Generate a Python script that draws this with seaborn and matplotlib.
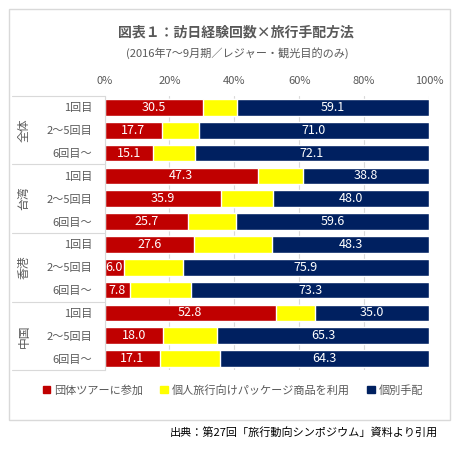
import pandas as pd
import matplotlib.pyplot as plt
import matplotlib.transforms as mtransforms
from matplotlib.patches import Rectangle, Patch
import seaborn as sns

# data (percent)
groups = ['全体', '台湾', '香港', '中国']
visits = ['1回目', '2～5回目', '6回目～']
group_tour = [30.5, 17.7, 15.1, 47.3, 35.9, 25.7, 27.6, 6.0, 7.8, 52.8, 18.0, 17.1]
package = [10.4, 11.3, 12.8, 13.9, 16.1, 14.7, 24.1, 18.1, 18.9, 12.2, 16.7, 18.6]
individual = [59.1, 71.0, 72.1, 38.8, 48.0, 59.6, 48.3, 75.9, 73.3, 35.0, 65.3, 64.3]
series_names = ['団体ツアーに参加', '個人旅行向けパッケージ商品を利用', '個別手配']
x_ticks = [0, 20, 40, 60, 80, 100]

red, yellow, navy = '#C00000', '#FFFF00', '#002060'
gray_txt = '#595959'
line_c = '#D9D9D9'

rows = [f'{g}_{v}' for g in groups for v in visits]
df = pd.DataFrame({'row': rows,
                   'group_tour': group_tour,
                   'package': package,
                   'individual': individual})
df['s2'] = df['group_tour'] + df['package']
df['s3'] = df['s2'] + df['individual']

sns.set_style('white')
plt.rcParams['font.family'] = ['Noto Sans CJK JP', 'DejaVu Sans']

fig = plt.figure(figsize=(4.61, 4.5), dpi=100)
ax = fig.add_axes([104.5 / 461, 80 / 450, 324.5 / 461, 274 / 450])

bw = 0.73
sns.barplot(data=df, x='s3', y='row', color=navy, saturation=1, width=bw, ax=ax)
sns.barplot(data=df, x='s2', y='row', color=yellow, saturation=1, width=bw, ax=ax)
sns.barplot(data=df, x='group_tour', y='row', color=red, saturation=1, width=bw, ax=ax)

ax.set_xlim(0, 100)
ax.set_ylim(11.5, -0.5)
ax.set_xlabel('')
ax.set_ylabel('')
ax.xaxis.tick_top()
ax.set_xticks(x_ticks)
ax.set_xticklabels([f'{t}%' for t in x_ticks], color=gray_txt, fontsize=8)
ax.set_yticks(range(len(rows)))
ax.set_yticklabels(visits * len(groups), color=gray_txt, fontsize=8)
ax.tick_params(axis='x', length=0, pad=7)
ax.tick_params(axis='y', length=0, pad=9)
ax.grid(axis='x', color=line_c, lw=0.8)
ax.set_axisbelow(True)
for s in ['top', 'right', 'bottom']:
    ax.spines[s].set_visible(False)
ax.spines['left'].set_color(line_c)
ax.spines['left'].set_linewidth(0.8)

# value labels
for i, r in df.iterrows():
    ax.text(r['group_tour'] / 2, i, f"{r['group_tour']:.1f}", ha='center', va='center',
            color='white', fontsize=9)
    ax.text(r['s2'] + r['individual'] / 2, i, f"{r['individual']:.1f}", ha='center',
            va='center', color='white', fontsize=9)

# group labels and separators
trans = mtransforms.blended_transform_factory(ax.transAxes, ax.transData)
for k, g in enumerate(groups):
    ax.text(-0.248, k * 3 + 1, g, rotation=90, ha='center', va='center',
            color=gray_txt, fontsize=8.5, transform=trans)
for yb in [-0.5, 2.5, 5.5, 8.5, 11.5]:
    ax.plot([-0.285, 0], [yb, yb], color=line_c, lw=0.8, transform=trans, clip_on=False)

# legend
handles = [Patch(color=c) for c in [red, yellow, navy]]
fig.legend(handles, series_names, loc='center', bbox_to_anchor=(0.505, 60 / 450), ncol=3,
           frameon=False, fontsize=8, handlelength=0.7, handleheight=0.7,
           handletextpad=0.3, columnspacing=1.6, labelcolor=gray_txt)

# titles and source
fig.text(236 / 461, (450 - 33) / 450, '図表１：訪日経験回数×旅行手配方法', ha='center',
         va='center', fontsize=10, fontweight='bold', color=gray_txt)
fig.text(237 / 461, (450 - 53) / 450, '(2016年7～9月期／レジャー・観光目的のみ)', ha='center',
         va='center', fontsize=8, color=gray_txt)
fig.text(438 / 461, (450 - 432) / 450, '出典：第27回「旅行動向シンポジウム」資料より引用',
         ha='right', va='center', fontsize=8, color='black')

# outer frame
fig.patches.append(Rectangle((9 / 461, 30 / 450), 441 / 461, 411 / 450, fill=False,
                             edgecolor=line_c, lw=1, transform=fig.transFigure))

fig.savefig('out.png', dpi=100)
